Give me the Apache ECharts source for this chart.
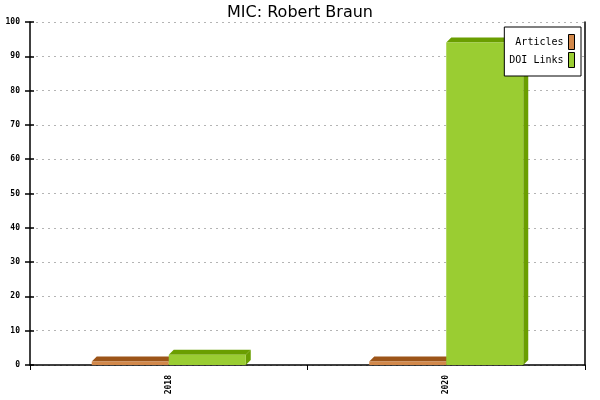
<!DOCTYPE html>
<html>
<head>
<meta charset="utf-8">
<script src="https://cdn.jsdelivr.net/npm/echarts@6/dist/echarts.min.js"></script>
<style>
  html, body { margin: 0; padding: 0; background: #fff; }
  #chart { width: 600px; height: 400px; }
</style>
</head>
<body>
<div id="chart"></div>
<script>
var years = ['2018', '2020'];
var articles = [1, 1];
var doiLinks = [3, 94];

var chart = echarts.init(document.getElementById('chart'));
var monoFont = 'DejaVu Sans Mono';

// front face plus darker top and side, offset is -1 (left of category centre) or 0 (right)
function bar3d(offset, front, dark) {
  return function (params, api) {
    var cat = api.value(0);
    var top = api.coord([cat, api.value(1)]);
    var base = api.coord([cat, 0]);
    var w = api.size([1, 0])[0] * 0.2775;
    var d = 5;
    var x0 = top[0] + offset * w, x1 = x0 + w;
    var y0 = top[1], y1 = base[1];
    return {
      type: 'group',
      children: [
        { type: 'polygon', shape: { points: [[x0, y0], [x0 + d, y0 - d], [x1 + d, y0 - d], [x1, y0]] }, style: { fill: dark } },
        { type: 'polygon', shape: { points: [[x1, y0], [x1 + d, y0 - d], [x1 + d, y1 - d], [x1, y1]] }, style: { fill: dark } },
        { type: 'rect', shape: { x: x0, y: y0, width: w, height: y1 - y0 }, style: { fill: front } }
      ]
    };
  };
}

function pairs(values) {
  var out = [];
  for (var i = 0; i < values.length; i++) {
    out.push([i, values[i]]);
  }
  return out;
}

var option = {
  backgroundColor: '#fff',
  animation: false,
  title: {
    text: 'MIC: Robert Braun',
    left: 'center',
    top: 0,
    textStyle: { fontFamily: 'DejaVu Sans', fontSize: 16, fontWeight: 'normal', color: '#000' }
  },
  legend: {
    orient: 'vertical',
    right: 19,
    top: 27,
    align: 'right',
    backgroundColor: '#fff',
    borderColor: '#000',
    borderWidth: 1,
    padding: [7, 6, 8, 5],
    itemWidth: 6,
    itemHeight: 15,
    itemGap: 2,
    icon: 'rect',
    selectedMode: false,
    textStyle: { fontFamily: monoFont, fontSize: 10, color: '#000' },
    data: [
      { name: 'Articles', itemStyle: { color: '#d2884a', borderColor: '#000', borderWidth: 1 } },
      { name: 'DOI Links', itemStyle: { color: '#9acd32', borderColor: '#000', borderWidth: 1 } }
    ]
  },
  grid: { left: 30, right: 15, top: 22, bottom: 35 },
  xAxis: {
    type: 'category',
    data: years,
    axisLine: { lineStyle: { color: '#000', width: 1.5 } },
    axisTick: { show: true, length: 5, lineStyle: { color: '#000' } },
    axisLabel: { rotate: 90, margin: 10, fontFamily: monoFont, fontSize: 8, fontWeight: 'bold', color: '#000' },
    splitLine: { show: false }
  },
  yAxis: [{
    type: 'value',
    min: 0,
    max: 100,
    interval: 10,
    axisLine: { show: true, lineStyle: { color: '#000', width: 1.5 } },
    axisTick: { show: true, length: 5, lineStyle: { color: '#000', width: 1.5 } },
    axisLabel: { margin: 10, fontFamily: monoFont, fontSize: 8, fontWeight: 'bold', color: '#000' },
    splitLine: { show: true, lineStyle: { color: '#b4b4b4', type: [2, 4] } }
  }, {
    type: 'value',
    min: 0,
    max: 100,
    interval: 10,
    position: 'left',
    axisLine: { show: false },
    axisTick: { show: true, inside: true, length: 4, lineStyle: { color: '#000', width: 1.5 } },
    axisLabel: { show: false },
    splitLine: { show: false }
  }, {
    type: 'value',
    min: 0,
    max: 100,
    interval: 10,
    position: 'right',
    axisLine: { show: true, lineStyle: { color: '#000', width: 1.5 } },
    axisTick: { show: false },
    axisLabel: { show: false },
    splitLine: { show: false }
  }],
  series: [{
    name: 'Articles',
    type: 'custom',
    itemStyle: { color: '#d2884a' },
    renderItem: bar3d(-1, '#d2884a', '#9c5418'),
    encode: { x: 0, y: 1 },
    data: pairs(articles)
  }, {
    name: 'DOI Links',
    type: 'custom',
    itemStyle: { color: '#9acd32' },
    renderItem: bar3d(0, '#9acd32', '#6a9e00'),
    encode: { x: 0, y: 1 },
    data: pairs(doiLinks)
  }]
};

chart.setOption(option);
</script>
</body>
</html>
